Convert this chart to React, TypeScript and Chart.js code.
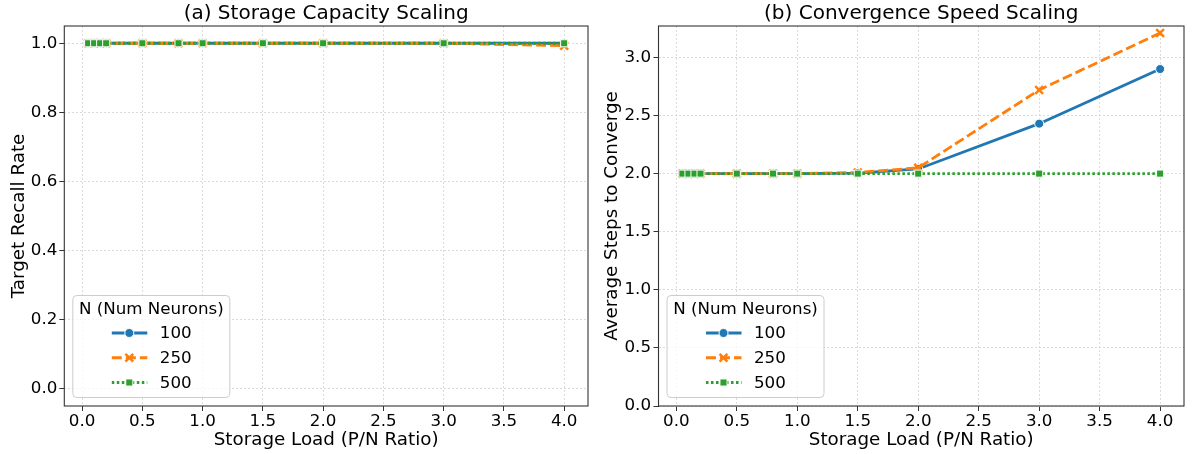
import React, { useEffect, useRef } from 'react';
import Chart from 'chart.js/auto';

const loadRatios = [0.05, 0.1, 0.15, 0.2, 0.5, 0.8, 1.0, 1.5, 2.0, 3.0, 4.0];
const neuronLabels = ['100', '250', '500'];
const recall100 = [1, 1, 1, 1, 1, 1, 1, 1, 1, 1, 1];
const recall250 = [1, 1, 1, 1, 1, 1, 1, 1, 1, 1, 0.993];
const recall500 = [1, 1, 1, 1, 1, 1, 1, 1, 1, 1, 1];
const steps100 = [2, 2, 2, 2, 2, 2, 2, 2.004, 2.04, 2.43, 2.9];
const steps250 = [2, 2, 2, 2, 2, 2, 2, 2.01, 2.05, 2.72, 3.21];
const steps500 = [2, 2, 2, 2, 2, 2, 2, 2, 2, 2, 2];

const colors = ['#1f77b4', '#ff7f0e', '#2ca02c'];
const dashes = [[], [10, 4], [2.5, 2.5]];
const pointStyles = ['circle', 'crossRot', 'rect'];
const pointRadii = [4.5, 5.5, 5];
const LINE_W = 2.8;

const FONT = '"DejaVu Sans", sans-serif';

function drawMarker(ctx: CanvasRenderingContext2D, style: string, x: number, y: number, r: number, color: string) {
  ctx.save();
  ctx.setLineDash([]);
  if (style === 'circle') {
    ctx.beginPath();
    ctx.arc(x, y, r, 0, Math.PI * 2);
    ctx.fillStyle = color;
    ctx.fill();
    ctx.strokeStyle = '#ffffff';
    ctx.lineWidth = 1;
    ctx.stroke();
  } else if (style === 'crossRot') {
    const o = Math.SQRT1_2 * r;
    ctx.beginPath();
    ctx.moveTo(x - o, y - o);
    ctx.lineTo(x + o, y + o);
    ctx.moveTo(x - o, y + o);
    ctx.lineTo(x + o, y - o);
    ctx.strokeStyle = color;
    ctx.lineWidth = 2.5;
    ctx.stroke();
  } else {
    const s = Math.SQRT1_2 * r;
    ctx.beginPath();
    ctx.rect(x - s, y - s, 2 * s, 2 * s);
    ctx.fillStyle = color;
    ctx.fill();
    ctx.strokeStyle = '#ffffff';
    ctx.lineWidth = 1;
    ctx.stroke();
  }
  ctx.restore();
}

function makePlugins(title: string) {
  return [
    {
      id: 'axTitle',
      afterDraw(chart: any) {
        const { ctx, chartArea: a } = chart;
        ctx.save();
        ctx.font = `20px ${FONT}`;
        ctx.fillStyle = '#000';
        ctx.textAlign = 'center';
        ctx.textBaseline = 'middle';
        ctx.fillText(title, (a.left + a.right) / 2, 13.5);
        ctx.restore();
      },
    },
    {
      id: 'frame',
      afterDraw(chart: any) {
        const { ctx, chartArea: a } = chart;
        ctx.save();
        ctx.strokeStyle = '#333333';
        ctx.lineWidth = 1.1;
        ctx.strokeRect(a.left, a.top, a.right - a.left, a.bottom - a.top);
        ctx.restore();
      },
    },
    {
      id: 'boxLegend',
      afterDatasetsDraw(chart: any) {
        const { ctx, chartArea: a } = chart;
        const w = 157;
        const h = 102;
        const x0 = a.left + 8.5;
        const y0 = a.bottom - 8.5 - h;
        ctx.save();
        ctx.beginPath();
        ctx.roundRect(x0, y0, w, h, 4);
        ctx.fillStyle = 'rgba(255,255,255,0.8)';
        ctx.fill();
        ctx.strokeStyle = '#cccccc';
        ctx.lineWidth = 1;
        ctx.stroke();
        ctx.font = `16.7px ${FONT}`;
        ctx.fillStyle = '#000';
        ctx.textAlign = 'center';
        ctx.textBaseline = 'middle';
        ctx.fillText('N (Num Neurons)', x0 + w / 2, y0 + 14.5);
        neuronLabels.forEach((lab, i) => {
          const y = y0 + 37.5 + i * 24.75;
          ctx.save();
          ctx.beginPath();
          ctx.setLineDash(dashes[i]);
          ctx.strokeStyle = colors[i];
          ctx.lineWidth = LINE_W;
          ctx.moveTo(x0 + 39, y);
          ctx.lineTo(x0 + 74.5, y);
          ctx.stroke();
          ctx.restore();
          drawMarker(ctx, pointStyles[i], x0 + 56.5, y, pointRadii[i], colors[i]);
          ctx.fillStyle = '#000';
          ctx.textAlign = 'left';
          ctx.fillText(lab, x0 + 87, y + 1);
        });
        ctx.restore();
      },
    },
  ];
}

function buildConfig(opts: {
  title: string;
  yTitle: string;
  series: number[][];
  yMin: number;
  yMax: number;
  yStep: number;
  yWidth: number;
  rightPad: number;
  yTitlePad: number;
  yTickPad: number;
}): any {
  const datasets = opts.series.map((vals, i) => ({
    label: neuronLabels[i],
    data: loadRatios.map((x, j) => ({ x, y: vals[j] })),
    borderColor: colors[i],
    backgroundColor: colors[i],
    borderWidth: LINE_W,
    borderDash: dashes[i],
    pointStyle: pointStyles[i],
    pointRadius: pointRadii[i],
    pointBackgroundColor: colors[i],
    pointBorderColor: i === 1 ? colors[i] : '#ffffff',
    pointBorderWidth: i === 1 ? 2.5 : 1,
    tension: 0,
    order: 3 - i,
  }));
  const gridCommon = {
    color: '#d2d2d2',
    lineWidth: 0.8,
    tickLength: 5,
    tickColor: '#333333',
    tickWidth: 1,
    tickBorderDash: [],
  };
  return {
    type: 'line',
    data: { datasets },
    options: {
      animation: false,
      responsive: false,
      events: [],
      layout: { padding: { top: 26, right: opts.rightPad, left: 0, bottom: 0 } },
      plugins: { legend: { display: false }, tooltip: { enabled: false }, title: { display: false } },
      scales: {
        x: {
          type: 'linear',
          min: -0.1475,
          max: 4.1975,
          grid: gridCommon,
          border: { display: false, dash: [2, 2] },
          ticks: {
            stepSize: 0.5,
            includeBounds: false,
            padding: 1,
            color: '#000',
            font: { family: FONT, size: 16.7 },
            maxRotation: 0,
            autoSkip: false,
            callback: (v: number) => v.toFixed(1),
          },
          title: {
            display: true,
            text: 'Storage Load (P/N Ratio)',
            color: '#000',
            font: { family: FONT, size: 18.3 },
            padding: { top: 0, bottom: 3 },
          },
          afterFit: (s: any) => {
            s.height = 48;
          },
        },
        y: {
          type: 'linear',
          min: opts.yMin,
          max: opts.yMax,
          grid: gridCommon,
          border: { display: false, dash: [2, 2] },
          ticks: {
            stepSize: opts.yStep,
            includeBounds: false,
            padding: opts.yTickPad,
            color: '#000',
            font: { family: FONT, size: 16.7 },
            autoSkip: false,
            callback: (v: number) => v.toFixed(1),
          },
          title: {
            display: true,
            text: opts.yTitle,
            color: '#000',
            font: { family: FONT, size: 18.3 },
            padding: { top: opts.yTitlePad, bottom: 0 },
          },
          afterFit: (s: any) => {
            s.width = opts.yWidth;
          },
        },
      },
    },
    plugins: makePlugins(opts.title),
  };
}

export default function App() {
  const leftRef = useRef<HTMLCanvasElement>(null);
  const rightRef = useRef<HTMLCanvasElement>(null);

  useEffect(() => {
    const left = new Chart(
      leftRef.current!,
      buildConfig({
        title: '(a) Storage Capacity Scaling',
        yTitle: 'Target Recall Rate',
        series: [recall100, recall250, recall500],
        yMin: -0.05,
        yMax: 1.05,
        yStep: 0.2,
        yWidth: 64.3,
        rightPad: 3,
        yTitlePad: 8,
        yTickPad: 2,
      })
    );
    const right = new Chart(
      rightRef.current!,
      buildConfig({
        title: '(b) Convergence Speed Scaling',
        yTitle: 'Average Steps to Converge',
        series: [steps100, steps250, steps500],
        yMin: 0,
        yMax: 3.2705,
        yStep: 0.5,
        yWidth: 62.5,
        rightPad: 5,
        yTitlePad: 5,
        yTickPad: 2.5,
      })
    );
    return () => {
      left.destroy();
      right.destroy();
    };
  }, []);

  return (
    <div style={{ position: 'absolute', left: 0, top: 0, width: 1192, height: 454, display: 'flex', background: '#fff' }}>
      <canvas ref={leftRef} width={596} height={454} style={{ width: 596, height: 454, display: 'block' }} />
      <canvas ref={rightRef} width={596} height={454} style={{ width: 596, height: 454, display: 'block' }} />
    </div>
  );
}
